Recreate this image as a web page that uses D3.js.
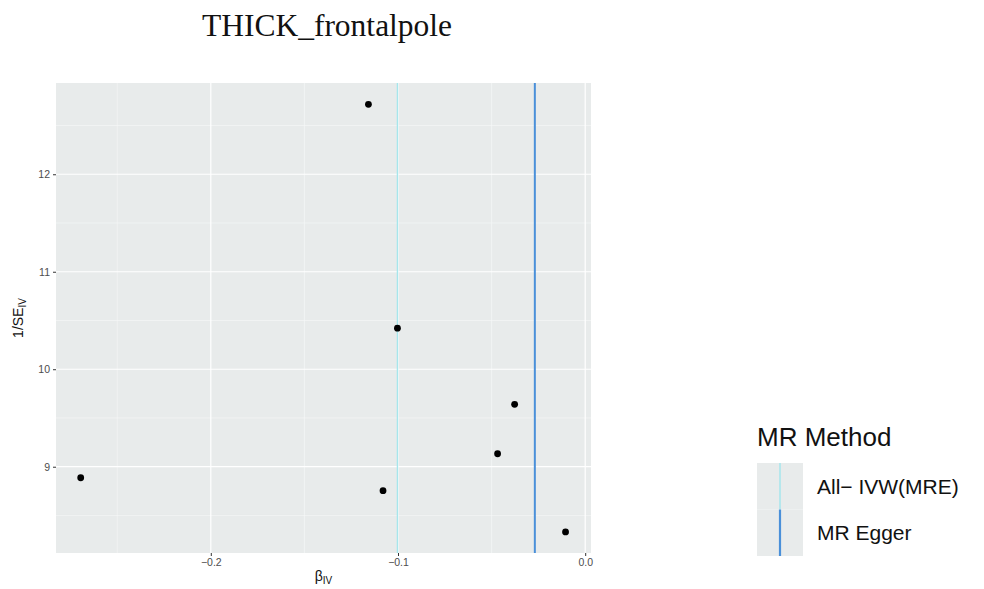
<!DOCTYPE html>
<html><head><meta charset="utf-8">
<script src="https://cdn.jsdelivr.net/npm/d3@7"></script>
<style>body{margin:0;background:#fff}svg{display:block}</style>
</head><body>
<svg id="c" width="984" height="589"></svg>
<script>
const title = "THICK_frontalpole";
const betaIV = [-0.2695, -0.1158, -0.1003, -0.1080, -0.0377, -0.0468, -0.0105];
const invSE  = [8.887, 12.717, 10.421, 8.754, 9.640, 9.133, 8.331];
const methods = ["All\u2212 IVW(MRE)", "MR Egger"];
const methodSlopes = [-0.1003, -0.0269];
const methodColors = ["#a6e6ec", "#4a90d9"];
const xTicks = [-0.2, -0.1, 0.0];
const xMinor = [-0.25, -0.15, -0.05];
const yTicks = [9, 10, 11, 12];
const yMinor = [8.5, 9.5, 10.5, 11.5, 12.5];

const svg = d3.select("#c");
const L = 56, R = 591, T = 83, B = 553;
const x = d3.scaleLinear().domain([-0.2827, 0.0031]).range([L, R]);
const y = d3.scaleLinear().domain([8.115, 12.936]).range([B, T]);

svg.append("rect").attr("x", L).attr("y", T).attr("width", R - L).attr("height", B - T).attr("fill", "#e8ebeb");

const g = svg.append("g");
g.selectAll(".xm").data(xMinor).join("line").attr("x1", d => x(d)).attr("x2", d => x(d)).attr("y1", T).attr("y2", B).attr("stroke", "#f7f8f8").attr("stroke-width", 0.6);
g.selectAll(".ym").data(yMinor).join("line").attr("y1", d => y(d)).attr("y2", d => y(d)).attr("x1", L).attr("x2", R).attr("stroke", "#f7f8f8").attr("stroke-width", 0.6);
g.selectAll(".xM").data(xTicks).join("line").attr("x1", d => x(d)).attr("x2", d => x(d)).attr("y1", T).attr("y2", B).attr("stroke", "#fff").attr("stroke-width", 1.2);
g.selectAll(".yM").data(yTicks).join("line").attr("y1", d => y(d)).attr("y2", d => y(d)).attr("x1", L).attr("x2", R).attr("stroke", "#fff").attr("stroke-width", 1.2);

g.selectAll(".meth").data(methodSlopes).join("line")
  .attr("x1", d => x(d)).attr("x2", d => x(d)).attr("y1", T).attr("y2", B)
  .attr("stroke", (d, i) => methodColors[i]).attr("stroke-width", (d, i) => i === 0 ? 1.4 : 2);

g.selectAll(".pt").data(betaIV).join("circle")
  .attr("cx", d => x(d)).attr("cy", (d, i) => y(invSE[i])).attr("r", 3.4).attr("fill", "#000");

const fmt = d => (d < 0 ? "\u2212" : "") + Math.abs(d).toFixed(1);
const xa = svg.append("g").attr("transform", `translate(0,${B})`)
  .call(d3.axisBottom(x).tickValues(xTicks).tickFormat(fmt).tickSize(3).tickPadding(3));
const ya = svg.append("g").attr("transform", `translate(${L},0)`)
  .call(d3.axisLeft(y).tickValues(yTicks).tickFormat(d3.format("d")).tickSize(3).tickPadding(3));
[xa, ya].forEach(a => {
  a.select(".domain").remove();
  a.selectAll(".tick line").attr("stroke", "#333");
  a.selectAll(".tick text").attr("fill", "#4d4d4d").style("font-family", "Liberation Sans, Arial, sans-serif").style("font-size", "10.5px");
});

svg.append("text").attr("x", 327).attr("y", 36).attr("text-anchor", "middle")
  .style("font-family", "Liberation Serif, Times New Roman, serif").style("font-size", "31.5px").attr("fill", "#111").text(title);

const xt = svg.append("text").attr("x", (L + R) / 2).attr("y", 581).attr("text-anchor", "middle")
  .style("font-family", "Liberation Sans, Arial, sans-serif").style("font-size", "14px").attr("fill", "#111");
xt.append("tspan").text("\u03b2");
xt.append("tspan").attr("dy", 3).style("font-size", "10px").text("IV");

const yt = svg.append("text").attr("transform", `translate(23,${(T + B) / 2}) rotate(-90)`).attr("text-anchor", "middle")
  .style("font-family", "Liberation Sans, Arial, sans-serif").style("font-size", "14px").attr("fill", "#111");
yt.append("tspan").text("1/SE");
yt.append("tspan").attr("dy", 3).style("font-size", "10px").text("IV");

const lg = svg.append("g");
lg.append("text").attr("x", 757).attr("y", 446).style("font-family", "Liberation Sans, Arial, sans-serif").style("font-size", "26px").attr("fill", "#111").text("MR Method");
methods.forEach((m, i) => {
  const ky = 463 + i * 46.5;
  lg.append("rect").attr("x", 757).attr("y", ky).attr("width", 46).attr("height", 46.5).attr("fill", "#e8ebeb");
  lg.append("line").attr("x1", 780).attr("x2", 780).attr("y1", ky).attr("y2", ky + 46.5)
    .attr("stroke", methodColors[i]).attr("stroke-width", i === 0 ? 1.5 : 2.2);
  lg.append("text").attr("x", 817).attr("y", ky + 23 + 7.5).style("font-family", "Liberation Sans, Arial, sans-serif").style("font-size", "21px").attr("fill", "#111").text(m);
});
</script>
</body></html>
